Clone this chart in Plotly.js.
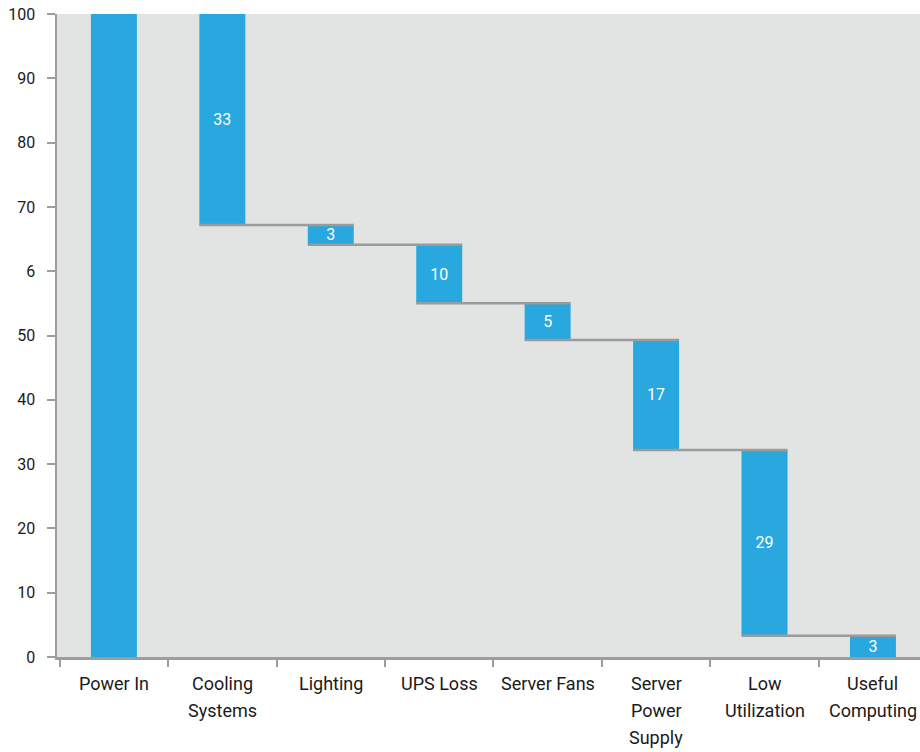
<!DOCTYPE html>
<html>
<head>
<meta charset="utf-8">
<script src="https://cdn.plot.ly/plotly-3.0.1.min.js"></script>
<style>
  html, body { margin: 0; padding: 0; background: #ffffff; }
  #chart { width: 920px; height: 752px; }
</style>
</head>
<body>
<div id="chart"></div>
<script>
// ---- data ----
var categories = ["Power In", "Cooling<br>Systems", "Lighting", "UPS Loss", "Server Fans", "Server<br>Power<br>Supply", "Low<br>Utilization", "Useful<br>Computing"];
var measures = ["absolute", "relative", "relative", "relative", "relative", "relative", "relative", "total"];
var changes = [100, -32.8, -3.1, -9.1, -5.7, -17.1, -28.9, 0];
var barLabels = ["", "33", "3", "10", "5", "17", "29", "3"];
var yTickVals = [0, 10, 20, 30, 40, 50, 60, 70, 80, 90, 100];
var yTickText = ["0", "10", "20", "30", "40", "50", "6", "70", "80", "90", "100"];

// ---- styling ----
var barColor = "#29a7df";
var connColor = "#9b9b9b";
var axisColor = "#9d9d9d";
var textColor = "#1a1a1a";
var barWidth = 0.424;
var fontFam = "Roboto, 'Open Sans', sans-serif";

var xIdx = categories.map(function (c, i) { return i; });

var trace = {
  type: "waterfall",
  x: xIdx,
  y: changes,
  measure: measures,
  text: barLabels,
  textposition: "inside",
  insidetextanchor: "middle",
  constraintext: "none",
  textangle: 0,
  textfont: { family: fontFam, size: 16, color: "#ffffff" },
  width: barWidth,
  increasing: { marker: { color: barColor } },
  decreasing: { marker: { color: barColor } },
  totals: { marker: { color: barColor } },
  connector: { visible: false },
  hoverinfo: "skip"
};

// connector lines: from left edge of bar i to right edge of bar i+1, at level after bar i
var shapes = [];
var level = 0;
for (var i = 0; i < categories.length - 1; i++) {
  if (measures[i] === "absolute") level = changes[i];
  else if (measures[i] === "relative") level += changes[i];
  if (i === 0) continue; // top level coincides with plot top
  shapes.push({
    type: "line", layer: "above", xref: "x", yref: "y",
    x0: i - barWidth / 2, x1: i + 1 + barWidth / 2,
    y0: level, y1: level,
    line: { color: connColor, width: 2.5 }
  });
}

// category labels, one annotation per line
var annotations = [];
categories.forEach(function (c, i) {
  c.split("<br>").forEach(function (line, k) {
    annotations.push({
      xref: "x", yref: "paper", x: i, y: 0,
      yanchor: "middle", xanchor: "center",
      yshift: -(26 + 27 * k),
      showarrow: false,
      text: line,
      font: { family: fontFam, size: 18, color: textColor }
    });
  });
});

var boundaries = xIdx.map(function (i) { return i - 0.5; });

var layout = {
  width: 920, height: 752,
  margin: { l: 57, r: 0, t: 14, b: 95 },
  paper_bgcolor: "#ffffff",
  plot_bgcolor: "#e2e3e3",
  showlegend: false,
  font: { family: fontFam, size: 16, color: textColor },
  xaxis: {
    type: "linear",
    range: [-0.525, 7.434],
    showgrid: false, zeroline: false,
    showline: true, linecolor: axisColor, linewidth: 2.5,
    ticks: "outside", ticklen: 7, tickwidth: 2, tickcolor: axisColor,
    tickvals: boundaries,
    showticklabels: false,
    fixedrange: true
  },
  yaxis: {
    range: [0, 100],
    showgrid: false, zeroline: false,
    showline: true, linecolor: axisColor, linewidth: 2.5,
    ticks: "outside", ticklen: 8, tickwidth: 2, tickcolor: axisColor,
    tickvals: yTickVals, ticktext: yTickText,
    ticklabelstandoff: 8,
    tickfont: { family: fontFam, size: 16, color: textColor },
    fixedrange: true
  },
  shapes: shapes,
  annotations: annotations
};

Plotly.newPlot("chart", [trace], layout, { displayModeBar: false, staticPlot: true });
</script>
</body>
</html>
